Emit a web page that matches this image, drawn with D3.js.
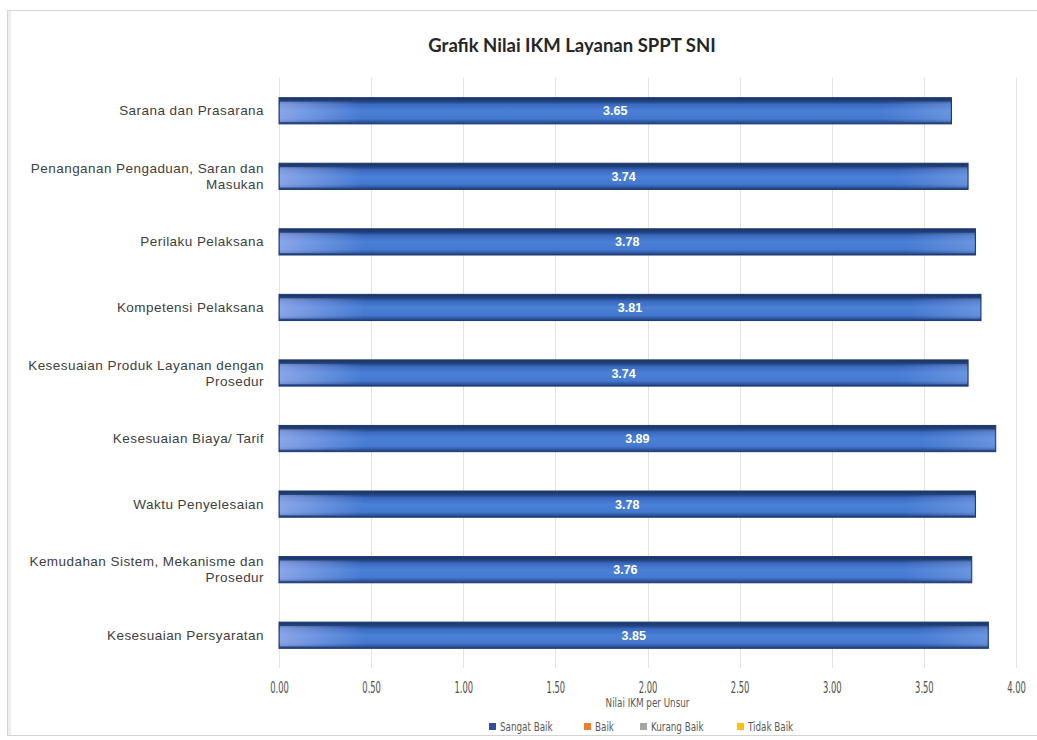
<!DOCTYPE html>
<html>
<head>
<meta charset="utf-8">
<script src="https://cdn.jsdelivr.net/npm/d3@7"></script>
<style>
  html, body { margin: 0; padding: 0; background: #ffffff; }
  svg { display: block; }
</style>
</head>
<body>
<svg id="chart" width="1037" height="740"></svg>
<script>
// Unsur pelayanan (top to bottom) and their IKM scores
const categories = [
  "Sarana dan Prasarana",
  "Penanganan Pengaduan, Saran dan Masukan",
  "Perilaku Pelaksana",
  "Kompetensi Pelaksana",
  "Kesesuaian Produk Layanan dengan Prosedur",
  "Kesesuaian Biaya/ Tarif",
  "Waktu Penyelesaian",
  "Kemudahan Sistem, Mekanisme dan Prosedur",
  "Kesesuaian Persyaratan"
];
const sangatBaik = [3.65, 3.74, 3.78, 3.81, 3.74, 3.89, 3.78, 3.76, 3.85];
const xTicks = [0, 0.5, 1, 1.5, 2, 2.5, 3, 3.5, 4];
const legendLabels = ["Sangat Baik", "Baik", "Kurang Baik", "Tidak Baik"];
const legendColors = ["#2f4f9c", "#ed7d31", "#a5a5a5", "#ffc000"];

const svg = d3.select("#chart");
const W = 1037;
const plot = { left: 279, right: 1016, top: 78, bottom: 668 };

// chart frame
svg.append("rect")
  .attr("x", 7.5).attr("y", 10.5)
  .attr("width", W).attr("height", 725)
  .attr("fill", "#ffffff")
  .attr("stroke", "#d4d4d4");
svg.append("line")
  .attr("x1", 9.5).attr("x2", 9.5).attr("y1", 11).attr("y2", 735)
  .attr("stroke", "#efefef").attr("stroke-width", 3);

// gradients for the bars
const defs = svg.append("defs");
const vg = defs.append("linearGradient").attr("id", "barV")
  .attr("x1", 0).attr("y1", 0).attr("x2", 0).attr("y2", 1);
[[0, "#1a3263"], [0.14, "#22447f"], [0.26, "#3a69c0"], [0.5, "#4a80d6"],
 [0.8, "#4479cf"], [0.93, "#2c549e"], [1, "#1d396e"]]
  .forEach(([o, c]) => vg.append("stop").attr("offset", o).attr("stop-color", c));
const hg = defs.append("linearGradient").attr("id", "barH")
  .attr("x1", 0).attr("y1", 0).attr("x2", 1).attr("y2", 0);
[[0, "#c8cdff", 0.5], [0.12, "#c8d0ff", 0.0], [0.9, "#c8d0ff", 0.0], [1, "#c8d8ff", 0.25]]
  .forEach(([o, c, a]) => hg.append("stop").attr("offset", o)
    .attr("stop-color", c).attr("stop-opacity", a));

const x = d3.scaleLinear().domain([0, 4]).range([plot.left, plot.right]);
const y = d3.scaleBand().domain(categories)
  .range([plot.top, plot.bottom]).paddingInner(0.6).paddingOuter(0.3);

// vertical gridlines
svg.append("g").selectAll("line").data(xTicks).join("line")
  .attr("x1", d => Math.round(x(d)) + 0.5).attr("x2", d => Math.round(x(d)) + 0.5)
  .attr("y1", plot.top).attr("y2", plot.bottom)
  .attr("stroke", "#e3e3e3").attr("stroke-width", 1);

// x axis tick labels (condensed look)
const xAxis = d3.axisBottom(x).tickValues(xTicks).tickFormat(d3.format(".2f"))
  .tickSize(0).tickPadding(0);
const gx = svg.append("g").attr("transform", `translate(0,${plot.bottom})`).call(xAxis);
gx.select(".domain").remove();
gx.selectAll("text")
  .attr("y", 0).attr("dy", 0)
  .attr("transform", "translate(0,25) scale(0.62,1)")
  .attr("fill", "#4f4f4f")
  .style("font-family", "'DejaVu Sans Condensed', 'DejaVu Sans', sans-serif")
  .style("font-size", "15px");

// axis title
svg.append("text")
  .attr("transform", `translate(${(plot.left + plot.right) / 2},707) scale(0.75,1)`)
  .attr("text-anchor", "middle")
  .attr("fill", "#595959")
  .style("font-family", "'DejaVu Sans Condensed', sans-serif")
  .style("font-size", "13px")
  .text("Nilai IKM per Unsur");

// category labels, wrapped to two lines when long
const yl = svg.append("g");
categories.forEach(c => {
  const t = yl.append("text")
    .attr("x", 264)
    .attr("text-anchor", "end")
    .attr("fill", "#404040")
    .style("font-family", "'Liberation Sans', Arial, sans-serif")
    .style("font-size", "13.5px")
    .style("letter-spacing", "0.45px");
  const words = c.split(" ");
  const lines = [];
  let line = [];
  const probe = t.append("tspan");
  words.forEach(w => {
    line.push(w);
    probe.text(line.join(" "));
    if (probe.node().getComputedTextLength() > 250 && line.length > 1) {
      line.pop();
      lines.push(line.join(" "));
      line = [w];
    }
  });
  lines.push(line.join(" "));
  probe.remove();
  const cy = y(c) + y.bandwidth() / 2;
  const lh = 16;
  lines.forEach((l, i) => {
    t.append("tspan")
      .attr("x", 264)
      .attr("y", cy + 4.5 + (i - (lines.length - 1) / 2) * lh)
      .text(l);
  });
});

// bars
const bars = svg.append("g");
bars.selectAll("rect.base").data(sangatBaik).join("rect")
  .attr("class", "base")
  .attr("x", x(0))
  .attr("y", (d, i) => y(categories[i]))
  .attr("width", d => x(d) - x(0))
  .attr("height", y.bandwidth())
  .attr("fill", "url(#barV)")
  .attr("stroke", "#1f3a72").attr("stroke-width", 1);
bars.selectAll("rect.sheen").data(sangatBaik).join("rect")
  .attr("class", "sheen")
  .attr("x", x(0) + 1)
  .attr("y", (d, i) => y(categories[i]) + 4)
  .attr("width", d => x(d) - x(0) - 2)
  .attr("height", y.bandwidth() - 6)
  .attr("fill", "url(#barH)");

// value labels
bars.selectAll("text").data(sangatBaik).join("text")
  .attr("x", d => (x(0) + x(d)) / 2)
  .attr("y", (d, i) => y(categories[i]) + y.bandwidth() / 2 + 4.5)
  .attr("text-anchor", "middle")
  .attr("fill", "#ffffff")
  .style("font-family", "'Liberation Sans', Arial, sans-serif")
  .style("font-weight", "bold")
  .style("font-size", "12.5px")
  .text(d => d.toFixed(2));

// title
svg.append("text")
  .attr("x", 572).attr("y", 52)
  .attr("text-anchor", "middle")
  .attr("fill", "#262626")
  .style("font-family", "Lato, 'Open Sans', sans-serif")
  .style("font-weight", "bold")
  .style("font-size", "18.5px")
  .text("Grafik Nilai IKM Layanan SPPT SNI");

// legend
const legendX = [492, 587, 643, 740];
const lg = svg.append("g");
legendLabels.forEach((l, i) => {
  lg.append("rect")
    .attr("x", legendX[i] - 3).attr("y", 723)
    .attr("width", 7).attr("height", 7)
    .attr("fill", legendColors[i]);
  lg.append("text")
    .attr("transform", `translate(${legendX[i] + 8},731) scale(0.75,1)`)
    .attr("fill", "#595959")
    .style("font-family", "'DejaVu Sans Condensed', sans-serif")
    .style("font-size", "13px")
    .text(l);
});
</script>
</body>
</html>
